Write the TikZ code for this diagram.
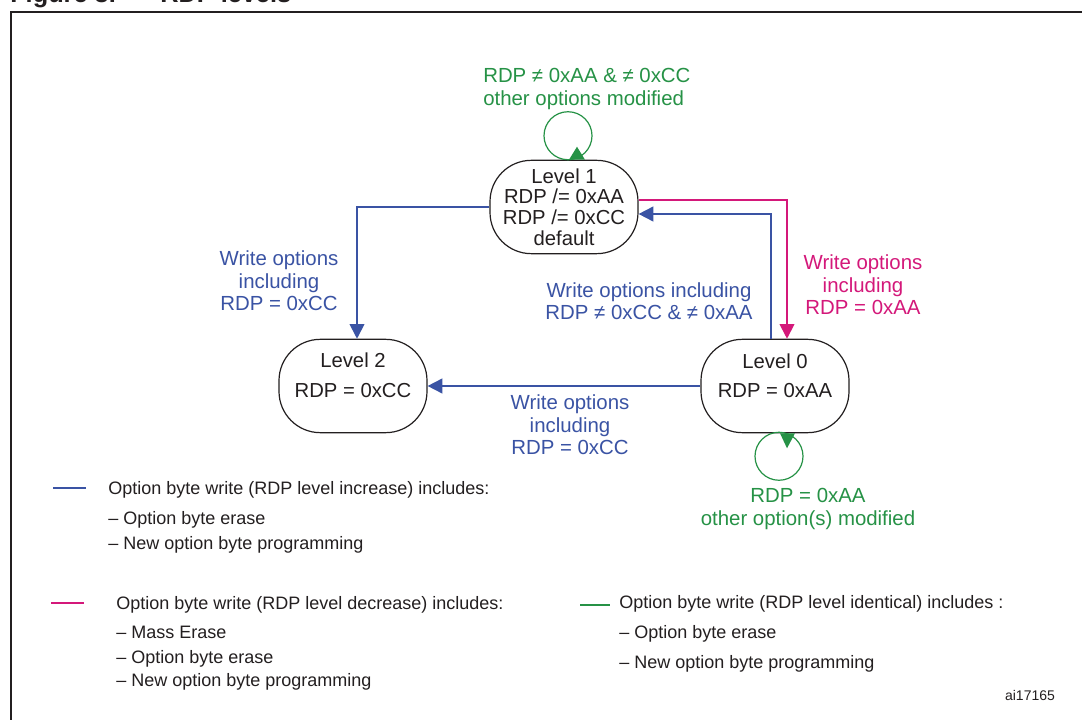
\documentclass[tikz,border=0pt]{standalone}
\usepackage{fontspec}
\setmainfont{Liberation Sans}
\usetikzlibrary{arrows.meta,calc}
\definecolor{cblue}{RGB}{58,83,164}
\definecolor{cmag}{RGB}{212,24,122}
\definecolor{cgreen}{RGB}{38,146,70}
\definecolor{ctext}{RGB}{35,31,32}
\begin{document}
\begin{tikzpicture}[x=0.75pt,y=-0.75pt,
  state/.style={draw=ctext, line width=0.9pt, rounded corners=31pt, minimum width=111pt, minimum height=70pt, inner sep=0pt, align=center, font=\fontsize{15.2}{15.5}\selectfont, text=ctext},
  ntext/.style={font=\fontsize{15.2}{15.5}\selectfont, text=ctext, inner sep=0pt},
  lab/.style={font=\fontsize{15.3}{16.8}\selectfont, inner sep=0pt, align=center},
  leg/.style={font=\fontsize{13.5}{16}\selectfont, text=ctext, anchor=base west, inner sep=0pt},
  conn/.style={line width=1.4pt, -{Triangle[length=11pt,width=11pt]}},
  loopc/.style={cgreen, line width=0.9pt},
  swatch/.style={line width=1.3pt},
  titletext/.style={anchor=base west, inner sep=0pt, font=\bfseries\fontsize{19}{22}\selectfont, text=ctext},
]
\useasboundingbox (0,0) rectangle (1082,720);
\clip (0,0) rectangle (1082,720);
\fill[white] (0,0) rectangle (1082,720);

% title (cut off at top, as in the reference)
\node[titletext] (t1) at (10,3) {Figure 3.};
\node[titletext] (t2) at (160,3) {RDP levels};

% frame
\draw[line width=1.5pt, ctext] (10.5,720) -- (10.5,12) -- (1082,12);

% states
\node[state] (l1) at (564,207) {Level 1\\RDP /= 0xAA\\RDP /= 0xCC\\default};
\node[state] (l2) at (353,386) {};
\node[ntext] (l2a) at (353,360) {Level 2};
\node[ntext] (l2b) at (353,391) {RDP = 0xCC};
\node[state] (l0) at (775,386) {};
\node[ntext] (l0a) at (775,361) {Level 0};
\node[ntext] (l0b) at (775,391) {RDP = 0xAA};

% connectors
\draw[conn, cblue] (l1.west) -| ($(l2.north)+(4,0)$);
\draw[conn, cblue] (l0.west) -- (l2.east);
\draw[conn, cblue] ($(l0.north)+(-4,0)$) |- ($(l1.east)+(0,7)$);
\draw[conn, cmag] ($(l1.east)+(0,-7)$) -| ($(l0.north)+(12,0)$);

% green self loops
\draw[loopc] ($(l1.north)+(4,-24)$) circle[radius=18pt];
\fill[cgreen] ($(l1.north)+(5,0)$) -- ($(l1.north)+(21,0)$) -- ($(l1.north)+(13,-13)$) -- cycle;
\draw[loopc] ($(l0.south)+(4,23)$) circle[radius=18pt];
\fill[cgreen] ($(l0.south)+(5,0)$) -- ($(l0.south)+(20,0)$) -- ($(l0.south)+(12,15)$) -- cycle;

% labels
\node[lab, text=cgreen, align=left, anchor=west] (g1) at (483,89) {RDP ≠ 0xAA \& ≠ 0xCC\\other options modified};
\node[lab, text=cblue] (b1) at (279,281) {Write options\\including\\RDP = 0xCC};
\node[lab, text=cblue] (b2) at (649,301) {Write options including\\RDP ≠ 0xCC \& ≠ 0xAA};
\node[lab, text=cmag] (m1) at (863,285) {Write options\\including\\RDP = 0xAA};
\node[lab, text=cblue] (b3) at (570,425) {Write options\\including\\RDP = 0xCC};
\node[lab, text=cgreen] (g2) at (808,509) {RDP = 0xAA\\other option(s) modified};

% legend
\draw[swatch, cblue] (53,488) -- (86,488);
\node[leg] (la1) at (108,494.5) {Option byte write (RDP level increase) includes:};
\node[leg] (la2) at (108,524.5) {– Option byte erase};
\node[leg] (la3) at (108,549.5) {– New option byte programming};

\draw[swatch, cmag] (51,603) -- (84,603);
\node[leg] (lb1) at (116,609.5) {Option byte write (RDP level decrease) includes:};
\node[leg] (lb2) at (116,638.5) {– Mass Erase};
\node[leg] (lb3) at (116,663.5) {– Option byte erase};
\node[leg] (lb4) at (116,686.5) {– New option byte programming};

\draw[swatch, cgreen] (580,605) -- (610,605);
\node[leg] (lc1) at (619,608.5) {Option byte write (RDP level identical) includes :};
\node[leg] (lc2) at (619,638.5) {– Option byte erase};
\node[leg] (lc3) at (619,668.5) {– New option byte programming};

\node[inner sep=0pt, font=\fontsize{10.5}{12}\selectfont, text=ctext] (ai) at (1030,695) {ai17165};
\end{tikzpicture}
\end{document}
